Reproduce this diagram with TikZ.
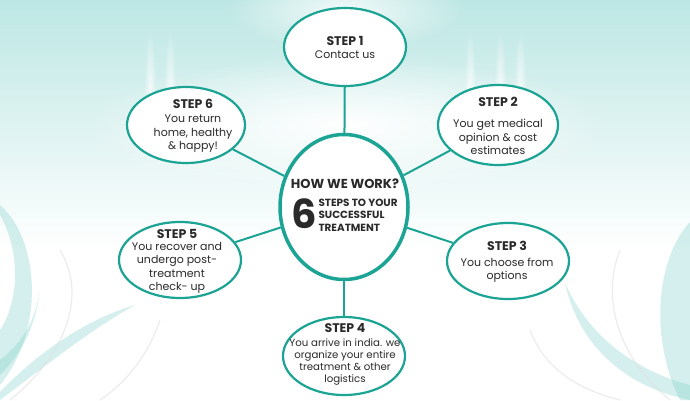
\documentclass[tikz,border=0pt]{standalone}
\usepackage{fontspec}
\setmainfont{Poppins}
\usetikzlibrary{shapes.geometric,fadings}
\tikzfading[name=glow, inner color=transparent!0, outer color=transparent!100]
\definecolor{teal1}{HTML}{1BA394}
\definecolor{bgtop}{HTML}{BDE7E4}
\definecolor{swoosh}{HTML}{8ED6D0}
\definecolor{txt}{HTML}{2A2A2A}
\begin{document}
\begin{tikzpicture}[x=1pt,y=-1pt,
  stepel/.style={ellipse, draw=teal1, line width=2.2pt, fill=white, inner sep=0pt},
  link/.style={draw=teal1, line width=2pt},
  head/.style={font=\fontsize{12.5}{14}\selectfont\bfseries, text=txt},
  body/.style={font=\fontsize{11}{13.5}\selectfont, align=center, text=txt},
  small/.style={font=\fontsize{10.2}{12}\selectfont, align=center, text=txt},
  swo/.style={fill=swoosh, fill opacity=0.38},
  gra/.style={draw=black!12, line width=1.2pt, opacity=0.6},
]
\useasboundingbox (0,0) rectangle (690,400);
% background
\fill[white] (0,0) rectangle (690,400);
\fill[top color=bgtop, bottom color=white] (0,0) rectangle (690,250);
\fill[white, path fading=glow] (345,125) ellipse (260 and 70);
\fill[white, path fading=glow, opacity=0.8] (345,10) ellipse (120 and 40);
\foreach \xx in {150,170,470,500,520} {
  \fill[white, path fading=glow, opacity=0.7] (\xx,90) ellipse (6 and 60);
}
% left swooshes
\fill[swo] (0,205) .. controls (40,240) and (45,330) .. (0,385) -- (0,330) .. controls (20,300) and (20,250) .. (0,215) -- cycle;
\fill[swo] (0,392) .. controls (40,350) and (90,318) .. (135,305) .. controls (90,330) and (40,370) .. (0,400) -- cycle;
\fill[swo] (0,360) .. controls (25,340) and (35,320) .. (40,290) .. controls (35,330) and (20,355) .. (0,375) -- cycle;
\draw[gra] (60,250) .. controls (90,300) and (60,360) .. (10,400);
\draw[gra] (100,400) .. controls (130,380) and (150,350) .. (160,320);
% right swooshes
\fill[swo] (690,222) .. controls (655,260) and (650,340) .. (680,400) -- (690,400) -- cycle;
\fill[swo] (565,283) .. controls (590,340) and (640,372) .. (690,385) -- (690,400) .. controls (630,388) and (580,350) .. (565,283) -- cycle;
\draw[gra] (620,250) .. controls (600,300) and (620,360) .. (670,400);
\draw[gra] (530,330) .. controls (545,370) and (580,390) .. (620,400);

% nodes
\node[ellipse, draw=teal1, line width=3.5pt, fill=white, minimum width=128pt, minimum height=145pt] (c) at (344,207) {};
\node[stepel, minimum width=122pt, minimum height=78pt] (s1) at (345,47) {};
\node[stepel, minimum width=120pt, minimum height=80pt] (s2) at (498,125) {};
\node[stepel, minimum width=122pt, minimum height=76pt] (s3) at (508,261) {};
\node[stepel, minimum width=122pt, minimum height=78pt] (s4) at (344,356) {};
\node[stepel, minimum width=122pt, minimum height=76pt] (s5) at (180,260) {};
\node[stepel, minimum width=118pt, minimum height=76pt] (s6) at (186,125) {};

% connectors
\draw[link] (c) -- (s1);
\draw[link] (c) -- (s2);
\draw[link] (c) -- (s3);
\draw[link] (c) -- (s4);
\draw[link] (c) -- (s5);
\draw[link] (c) -- (s6);

% texts
\node[head] (h1) at (345,41) {STEP 1};
\node[body] (b1) at (345,55) {Contact us};
\node[head] (h2) at (498,102) {STEP 2};
\node[body] (b2) at (498,137) {You get medical\\opinion \& cost\\estimates};
\node[head] (h3) at (507,246) {STEP 3};
\node[body] (b3) at (507,270) {You choose from\\options};
\node[head] (h4) at (345,328) {STEP 4};
\node[small] (b4) at (345,362) {You arrive in india. we\\organize your entire\\treatment \& other\\logistics};
\node[head] (h5) at (177,234) {STEP 5};
\node[body] (b5) at (177,268) {You recover and\\undergo post-\\treatment\\check- up};
\node[head] (h6) at (193,104) {STEP 6};
\node[body] (b6) at (193,134) {You return\\home, healthy\\\& happy!};

% centre text
\node[font=\fontsize{13}{14}\selectfont\bfseries, text=txt] (cw) at (345,184) {HOW WE WORK?};
\node[font=\fontsize{40}{40}\selectfont\bfseries, text=txt] (six) at (304,214) {6};
\node[font=\fontsize{10.4}{12.4}\selectfont\bfseries, text=txt, align=left, anchor=west] (cs) at (315,215) {STEPS TO YOUR\\SUCCESSFUL\\TREATMENT};
\end{tikzpicture}
\end{document}
